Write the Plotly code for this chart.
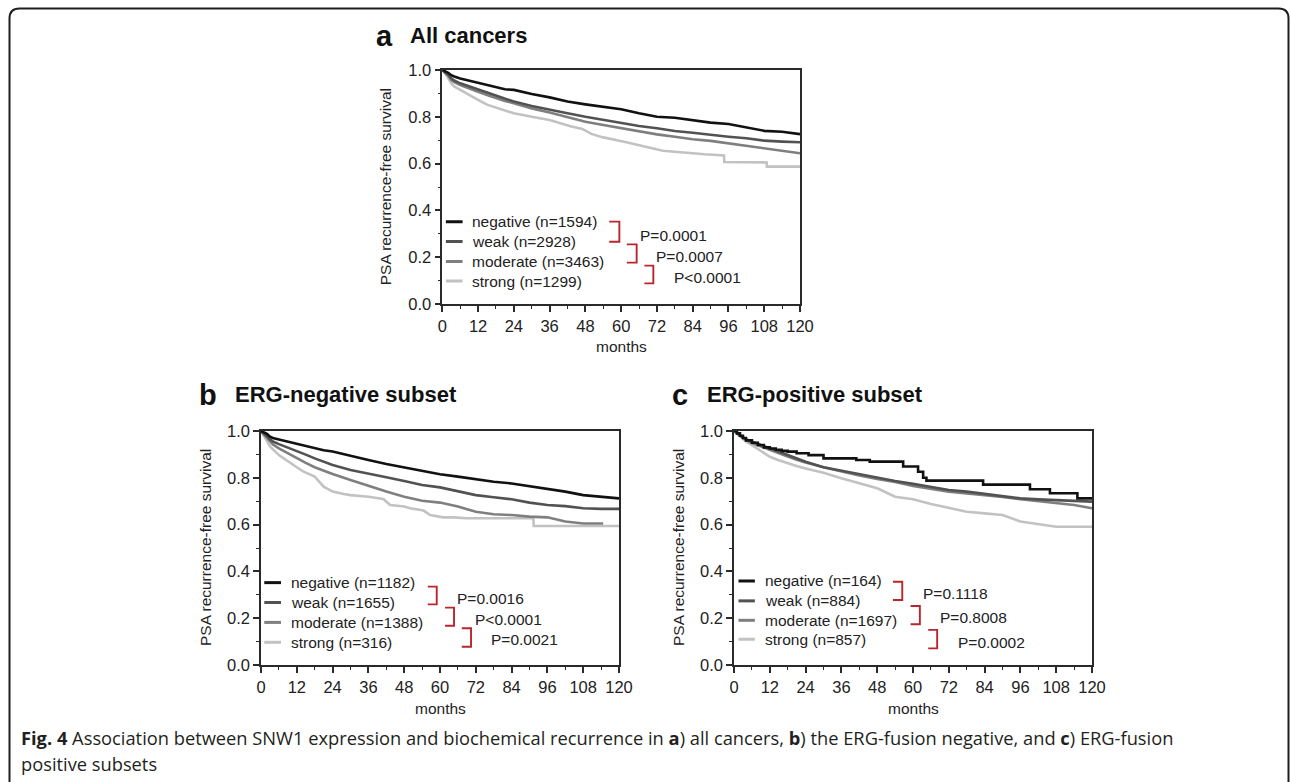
import plotly.graph_objects as go

W, H = 1290, 782

# ---------------- data ----------------
groups = ["negative", "weak", "moderate", "strong"]
group_colors = ["#111111", "#525252", "#7f7f7f", "#c2c2c2"]

# Panel a: All cancers
n_a = [1594, 2928, 3463, 1299]
months_a = [0, 1, 2, 3, 4, 6, 9, 12, 15, 18, 21, 24, 30, 36, 42, 48, 54, 60, 66, 72, 78, 84, 90, 96, 102, 108, 114, 120]
neg_a = [1.0, 0.995, 0.988, 0.978, 0.972, 0.964, 0.955, 0.946, 0.935, 0.925, 0.918, 0.915, 0.897, 0.883, 0.865, 0.853, 0.843, 0.832, 0.815, 0.800, 0.796, 0.786, 0.775, 0.769, 0.755, 0.740, 0.736, 0.726]
weak_a = [1.0, 0.990, 0.980, 0.964, 0.955, 0.943, 0.930, 0.915, 0.902, 0.889, 0.876, 0.865, 0.846, 0.829, 0.815, 0.800, 0.786, 0.772, 0.761, 0.751, 0.739, 0.732, 0.722, 0.715, 0.708, 0.698, 0.694, 0.691]
mod_a = [1.0, 0.988, 0.975, 0.957, 0.948, 0.936, 0.920, 0.907, 0.893, 0.879, 0.868, 0.858, 0.836, 0.818, 0.798, 0.779, 0.765, 0.751, 0.736, 0.725, 0.715, 0.704, 0.697, 0.687, 0.675, 0.665, 0.655, 0.644]
months_a_strong = [0, 1, 2, 3, 4, 6, 9, 12, 15, 18, 21, 24, 30, 36, 43, 47, 50, 54, 61, 65, 72, 74, 88, 94.5, 94.6, 108.8, 108.9, 120]
strong_a = [1.0, 0.985, 0.965, 0.943, 0.930, 0.915, 0.893, 0.872, 0.852, 0.840, 0.828, 0.815, 0.800, 0.786, 0.760, 0.748, 0.727, 0.712, 0.693, 0.681, 0.662, 0.655, 0.640, 0.635, 0.607, 0.605, 0.587, 0.587]

# Panel b: ERG-negative subset
n_b = [1182, 1655, 1388, 316]
months_b = [0, 1, 2, 3, 4, 6, 9, 12, 15, 18, 21, 24, 30, 36, 42, 48, 54, 60, 66, 72, 78, 84, 90, 96, 102, 108, 114, 120]
neg_b = [1.0, 0.995, 0.988, 0.976, 0.970, 0.964, 0.955, 0.947, 0.936, 0.926, 0.918, 0.912, 0.893, 0.876, 0.859, 0.845, 0.830, 0.815, 0.805, 0.793, 0.783, 0.776, 0.765, 0.751, 0.741, 0.726, 0.719, 0.712]
weak_b = [1.0, 0.990, 0.978, 0.964, 0.955, 0.944, 0.930, 0.915, 0.899, 0.883, 0.868, 0.855, 0.833, 0.816, 0.802, 0.786, 0.769, 0.759, 0.741, 0.726, 0.717, 0.708, 0.694, 0.684, 0.679, 0.670, 0.667, 0.667]
months_b_mod = [0, 1, 2, 3, 4, 6, 9, 12, 15, 18, 21, 24, 30, 36, 42, 48, 54, 60, 66, 72, 78, 84, 90, 96, 102, 108, 114.7]
mod_b = [1.0, 0.985, 0.970, 0.954, 0.942, 0.926, 0.905, 0.883, 0.864, 0.845, 0.830, 0.816, 0.791, 0.765, 0.741, 0.719, 0.702, 0.694, 0.677, 0.655, 0.644, 0.641, 0.634, 0.631, 0.613, 0.605, 0.605]
months_b_strong = [0, 1, 2, 3.1, 6, 9.8, 12, 14.3, 18, 21, 24, 27.7, 30, 36, 41, 43.3, 48, 50, 54.5, 56.7, 61, 64.5, 69, 91.3, 91.4, 120]
strong_b = [1.0, 0.980, 0.955, 0.933, 0.897, 0.862, 0.845, 0.826, 0.805, 0.762, 0.741, 0.731, 0.726, 0.719, 0.709, 0.684, 0.677, 0.670, 0.660, 0.641, 0.631, 0.631, 0.627, 0.627, 0.594, 0.594]

# Panel c: ERG-positive subset
n_c = [164, 884, 1697, 857]
months_c_neg = [0, 1, 2, 3, 4, 6, 8, 10, 12, 14, 16, 18, 21, 25, 30, 41, 45.5, 56.7, 61.7, 63.4, 64.5, 83.5, 99.2, 105.9, 115.1, 120]
neg_c = [1.0, 0.990, 0.980, 0.970, 0.960, 0.950, 0.940, 0.930, 0.925, 0.920, 0.915, 0.912, 0.905, 0.897, 0.883, 0.876, 0.869, 0.848, 0.826, 0.800, 0.788, 0.771, 0.751, 0.734, 0.712, 0.712]
months_c = [0, 1, 2, 3, 4, 6, 9, 12, 15, 18, 21, 24, 30, 36, 42, 48, 54, 60, 66, 72, 78, 84, 90, 96, 102, 108, 114, 120]
weak_c = [1.0, 0.990, 0.980, 0.972, 0.965, 0.954, 0.940, 0.926, 0.911, 0.897, 0.882, 0.869, 0.845, 0.830, 0.815, 0.801, 0.786, 0.774, 0.762, 0.748, 0.741, 0.731, 0.722, 0.712, 0.708, 0.705, 0.702, 0.698]
mod_c = [1.0, 0.990, 0.980, 0.970, 0.962, 0.948, 0.933, 0.919, 0.905, 0.891, 0.877, 0.865, 0.845, 0.826, 0.810, 0.795, 0.782, 0.765, 0.752, 0.741, 0.733, 0.726, 0.718, 0.708, 0.700, 0.691, 0.684, 0.670]
strong_c = [1.0, 0.988, 0.975, 0.965, 0.955, 0.940, 0.915, 0.890, 0.875, 0.862, 0.850, 0.840, 0.822, 0.798, 0.776, 0.755, 0.719, 0.708, 0.688, 0.670, 0.655, 0.648, 0.641, 0.613, 0.603, 0.591, 0.591, 0.591]

panel_letters = ["a", "b", "c"]
panel_titles = ["All cancers", "ERG-negative subset", "ERG-positive subset"]
p_values = [["P=0.0001", "P=0.0007", "P<0.0001"],
            ["P=0.0016", "P<0.0001", "P=0.0021"],
            ["P=0.1118", "P=0.8008", "P=0.0002"]]

x_ticks = list(range(0, 121, 12))
y_ticks = [0.0, 0.2, 0.4, 0.6, 0.8, 1.0]

caption_1 = ("<b>Fig. 4</b> Association between SNW1 expression and biochemical recurrence in "
             "<b>a</b>) all cancers, <b>b</b>) the ERG-fusion negative, and <b>c</b>) ERG-fusion")
caption_2 = "positive subsets"

# ---------------- layout geometry (pixels) ----------------
boxes = [(442.3, 800.0, 70.0, 304.0), (261.0, 619.0, 431.0, 665.0), (734.0, 1092.0, 431.0, 665.0)]
legend_geom = [
    (1.2, 6.8, 9.3, [0.352, 0.267, 0.182, 0.098]),
    (1.1, 6.7, 9.5, [0.352, 0.267, 0.182, 0.097]),
    (1.5, 7.0, 9.6, [0.359, 0.274, 0.191, 0.110]),
]
brackets = [
    [(56.0, 59.4, 0.352, 0.266), (61.9, 65.2, 0.255, 0.177), (67.8, 70.8, 0.164, 0.088)],
    [(55.9, 58.9, 0.335, 0.259), (61.7, 64.7, 0.245, 0.168), (67.3, 70.4, 0.157, 0.078)],
    [(53.3, 56.4, 0.356, 0.278), (59.2, 62.3, 0.252, 0.174), (65.1, 68.1, 0.150, 0.071)],
]
p_pos = [
    [(65.5, 0.292), (71.1, 0.204), (77.0, 0.114)],
    [(65.1, 0.286), (70.9, 0.196), (76.5, 0.107)],
    [(62.6, 0.306), (68.4, 0.201), (74.3, 0.097)],
]

FONT = "Arial, Liberation Sans, sans-serif"
TXT = "#222222"
RED = "#b8262c"
NOFILL = "rgba(0,0,0,0)"

series = [
    [(months_a, neg_a), (months_a, weak_a), (months_a, mod_a), (months_a_strong, strong_a)],
    [(months_b, neg_b), (months_b, weak_b), (months_b_mod, mod_b), (months_b_strong, strong_b)],
    [(months_c_neg, neg_c), (months_c, weak_c), (months_c, mod_c), (months_c, strong_c)],
]
ns = [n_a, n_b, n_c]
line_shapes = [["linear"] * 4, ["linear"] * 4, ["hv", "linear", "linear", "linear"]]

fig = go.Figure()
shapes = []
annotations = []

def fx(p):
    return p / W

def fy(p):
    return 1 - p / H

for i in range(3):
    sfx = "" if i == 0 else str(i + 1)
    xa, ya = "x" + sfx, "y" + sfx
    x0, x1, yt, yb = boxes[i]
    for g in [3, 2, 1, 0]:
        xs, ys = series[i][g]
        fig.add_trace(go.Scatter(x=xs, y=ys, mode="lines", xaxis=xa, yaxis=ya,
                                 line=dict(color=group_colors[g], width=2.6, shape=line_shapes[i][g]),
                                 showlegend=False, hoverinfo="skip"))
    axis_common = dict(showline=True, linecolor="#2a2a2a", linewidth=1.6, mirror=True,
                       ticks="outside", ticklen=6, tickwidth=1.5, tickcolor="#2a2a2a",
                       showgrid=False, zeroline=False, automargin=False,
                       tickfont=dict(family=FONT, size=16.5, color=TXT))
    fig.layout["xaxis" + sfx] = dict(axis_common, domain=[fx(x0), fx(x1)], range=[0, 120],
                                     anchor=ya, tickvals=x_ticks,
                                     minor=dict(ticks="outside", ticklen=3, tickwidth=1.3,
                                                tickcolor="#2a2a2a", tick0=0, dtick=6))
    fig.layout["yaxis" + sfx] = dict(axis_common, domain=[fy(yb), fy(yt)], range=[0, 1],
                                     anchor=xa, tickvals=y_ticks, tickformat=".1f",
                                     minor=dict(ticks="outside", ticklen=3, tickwidth=1.3,
                                                tickcolor="#2a2a2a", tick0=0, dtick=0.1))
    lx0, lx1, ltx, rows = legend_geom[i]
    for g in range(4):
        shapes.append(dict(type="line", xref=xa, yref=ya, x0=lx0, x1=lx1, y0=rows[g], y1=rows[g],
                           opacity=1, line=dict(color=group_colors[g], width=3)))
        annotations.append(dict(xref=xa, yref=ya, x=ltx, y=rows[g], xanchor="left", yanchor="middle",
                                text=f"{groups[g]} (n={ns[i][g]})", showarrow=False,
                                font=dict(family=FONT, size=15.5, color=TXT)))
    for k in range(3):
        bx0, bx1, byt, byb = brackets[i][k]
        shapes.append(dict(type="path", xref=xa, yref=ya, opacity=1, fillcolor=NOFILL,
                           path=f"M {bx0},{byt} L {bx1},{byt} L {bx1},{byb} L {bx0},{byb}",
                           line=dict(color=RED, width=1.9)))
        px_, py_ = p_pos[i][k]
        annotations.append(dict(xref=xa, yref=ya, x=px_, y=py_, xanchor="left", yanchor="middle",
                                text=p_values[i][k], showarrow=False,
                                font=dict(family=FONT, size=15.5, color=TXT)))
    annotations.append(dict(xref="paper", yref="paper", x=fx((x0 + x1) / 2), y=fy(yb + 43),
                            xanchor="center", yanchor="middle", text="months", showarrow=False,
                            font=dict(family=FONT, size=15.5, color=TXT)))
    annotations.append(dict(xref="paper", yref="paper", x=fx(x0 - 56), y=fy((yt + yb) / 2),
                            xanchor="center", yanchor="middle", text="PSA recurrence-free survival",
                            textangle=-90, showarrow=False,
                            font=dict(family=FONT, size=15.5, color=TXT)))

title_pos = [(374, 408, 36), (197, 233, 395), (670, 705, 395)]
for i in range(3):
    lx, tx, ty = title_pos[i]
    annotations.append(dict(xref="paper", yref="paper", x=fx(lx), y=fy(ty), xanchor="left",
                            yanchor="middle", text=f"<b>{panel_letters[i]}</b>", showarrow=False,
                            font=dict(family=FONT, size=29, color="#111111")))
    annotations.append(dict(xref="paper", yref="paper", x=fx(tx), y=fy(ty - 1), xanchor="left",
                            yanchor="middle", text=f"<b>{panel_titles[i]}</b>", showarrow=False,
                            font=dict(family=FONT, size=22, color="#111111")))

annotations.append(dict(xref="paper", yref="paper", x=fx(19), y=fy(737), xanchor="left",
                        yanchor="middle", text=caption_1, showarrow=False,
                        font=dict(family="Open Sans, sans-serif", size=18.3, color="#231f20")))
annotations.append(dict(xref="paper", yref="paper", x=fx(19), y=fy(763), xanchor="left",
                        yanchor="middle", text=caption_2, showarrow=False,
                        font=dict(family="Open Sans, sans-serif", size=18.3, color="#231f20")))

r = 10
bl, bt, br = 9.5, 8.5, 1288.5
frame = (f"M {fx(bl)},{fy(800)} L {fx(bl)},{fy(bt + r)} Q {fx(bl)},{fy(bt)} {fx(bl + r)},{fy(bt)} "
         f"L {fx(br - r)},{fy(bt)} Q {fx(br)},{fy(bt)} {fx(br)},{fy(bt + r)} L {fx(br)},{fy(800)}")
shapes.append(dict(type="path", xref="paper", yref="paper", path=frame, opacity=1, fillcolor=NOFILL,
                   line=dict(color="#1e1e1e", width=2)))

fig.update_layout(template="none", width=W, height=H,
                  margin=dict(l=0, r=0, t=0, b=0, pad=0, autoexpand=False),
                  paper_bgcolor="white", plot_bgcolor="white",
                  shapes=shapes, annotations=annotations, showlegend=False)

fig.write_html("out.html", config={"displayModeBar": False},
               post_script="document.body.style.margin='0px';document.body.style.overflow='hidden';")
